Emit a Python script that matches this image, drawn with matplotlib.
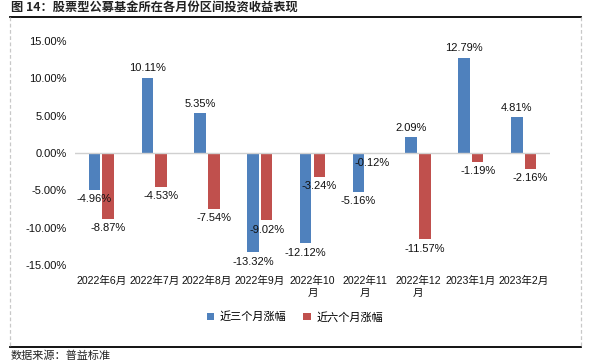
import matplotlib
matplotlib.use("Agg")
import matplotlib.pyplot as plt
from matplotlib.lines import Line2D
from matplotlib.ticker import FuncFormatter
import numpy as np

plt.rcParams['font.family'] = ['Liberation Sans', 'Noto Sans CJK SC', 'DejaVu Sans']

months = ["2022年6月", "2022年7月", "2022年8月", "2022年9月", "2022年10\n月",
          "2022年11\n月", "2022年12\n月", "2023年1月", "2023年2月"]
three_month = [-4.96, 10.11, 5.35, -13.32, -12.12, -5.16, 2.09, 12.79, 4.81]
six_month = [-8.87, -4.53, -7.54, -9.02, -3.24, -0.12, -11.57, -1.19, -2.16]
series_names = ["近三个月涨幅", "近六个月涨幅"]
colors = ["#4F81BD", "#C0504D"]

W, H = 591, 364
fig = plt.figure(figsize=(W / 100, H / 100), dpi=100)

# frame bits: title rule, dashed side borders, bottom rule
fig.add_artist(Line2D([10 / W, 581 / W], [1 - 17 / H, 1 - 17 / H], color="black", lw=1.3))
fig.add_artist(Line2D([10 / W, 581 / W], [1 - 347 / H, 1 - 347 / H], color="black", lw=1.3))
for xp in (10, 581):
    fig.add_artist(Line2D([xp / W, xp / W], [1 - 17 / H, 1 - 347 / H], color="#c8c8c8",
                          lw=0.9, ls=(0, (3, 2))))

fig.text(11 / W, 1 - 8 / H, "图 14：股票型公募基金所在各月份区间投资收益表现",
         fontsize=8.8, fontweight="bold", va="center", ha="left",
         family=["Noto Sans CJK SC"], color="#222222")
fig.text(11 / W, 1 - 356 / H, "数据来源：普益标准", fontsize=8, va="center", ha="left",
         family=["Noto Sans CJK SC"], color="#222222")

ax = fig.add_axes([75 / W, 1 - 265 / H, 475 / W, 224 / H])
x = np.arange(len(months))
bw = 0.22
gap = 0.04
for i, (vals, name, c) in enumerate(zip([three_month, six_month], series_names, colors)):
    off = (i - 0.5) * (bw + gap)
    bars = ax.bar(x + off, vals, width=bw, color=c, label=name)
    for xi, v in zip(x + off, vals):
        ax.annotate(f"{v:.2f}%", (xi, v), xytext=(0, 3 if v >= 0 else -3),
                    textcoords="offset points", ha="center",
                    va="bottom" if v >= 0 else "top", fontsize=8, color="#111111")

ax.axhline(0, color="#d0d0d0", lw=1)
ax.set_xlim(-0.5, len(months) - 0.5)
ax.set_ylim(-15, 15)
ax.set_yticks([-15, -10, -5, 0, 5, 10, 15])
ax.yaxis.set_major_formatter(FuncFormatter(lambda v, p: f"{v:.2f}%"))
ax.set_xticks(x)
ax.set_xticklabels(months, fontsize=7.6, linespacing=1.25, va="top")
ax.tick_params(axis="both", length=0, colors="#111111")
ax.tick_params(axis="y", labelsize=8, pad=6)
ax.tick_params(axis="x", pad=8)
for s in ax.spines.values():
    s.set_visible(False)

fig.legend(loc="center", bbox_to_anchor=(295 / W, 1 - 317 / H), ncol=2, frameon=False,
           fontsize=8, handlelength=0.7, handleheight=0.7, handletextpad=0.5,
           columnspacing=1.5)

fig.savefig("out.png", dpi=100)
